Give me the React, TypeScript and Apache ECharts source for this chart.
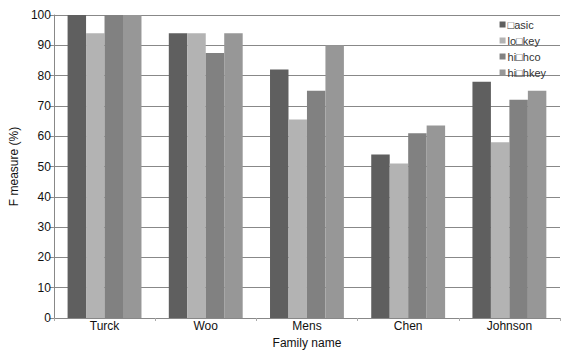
import React, { useEffect, useRef } from "react";
import * as echarts from "echarts";

const categories = ["Turck", "Woo", "Mens", "Chen", "Johnson"];
const seriesNames = ["□asic", "lo□key", "hi□hco", "hi□hkey"];
const basic = [100, 94, 82, 54, 78];
const lowkey = [94, 94, 65.5, 51, 58];
const highco = [100, 87.5, 75, 61, 72];
const highkey = [100, 94, 90, 63.5, 75];
const colors = ["#5f5f5f", "#b3b3b3", "#818181", "#979797"];
const yTicks = [0, 10, 20, 30, 40, 50, 60, 70, 80, 90, 100];

export default function App() {
  const ref = useRef<HTMLDivElement>(null);
  useEffect(() => {
    if (!ref.current) return;
    const chart = echarts.init(ref.current, null, { renderer: "svg" });
    const values = [basic, lowkey, highco, highkey];
    const font = "Liberation Sans, Arial, sans-serif";
    chart.setOption({
      animation: false,
      textStyle: { fontFamily: font },
      grid: { left: 49, right: 1, top: 15, bottom: 36, containLabel: false },
      legend: {
        orient: "vertical",
        right: 10,
        top: 14,
        itemWidth: 6,
        itemHeight: 6,
        itemGap: 5,
        icon: "rect",
        textStyle: { fontSize: 11, color: "#333", fontFamily: font, padding: [0, 0, 0, -3] },
        data: seriesNames,
      },
      xAxis: {
        type: "category",
        data: categories,
        name: "Family name",
        nameLocation: "middle",
        nameGap: 16,
        nameTextStyle: { fontSize: 12, color: "#111", fontFamily: font },
        axisLine: { lineStyle: { color: "#888", width: 1 } },
        axisTick: { show: true, length: 3, lineStyle: { color: "#aaa" } },
        axisLabel: { fontSize: 12, color: "#111", margin: 2, fontFamily: font },
      },
      yAxis: {
        type: "value",
        min: yTicks[0],
        max: yTicks[yTicks.length - 1],
        interval: 10,
        name: "F measure (%)",
        nameLocation: "middle",
        nameGap: 30,
        nameTextStyle: { fontSize: 12, color: "#111", fontFamily: font },
        axisLine: { show: true, lineStyle: { color: "#888", width: 1 } },
        axisTick: { show: true, length: 4, lineStyle: { color: "#888" } },
        axisLabel: { fontSize: 12, color: "#111", margin: 3, fontFamily: font },
        splitLine: { show: true, lineStyle: { color: "#888", width: 1 } },
      },
      series: seriesNames.map((name, i) => ({
        name,
        type: "bar",
        data: values[i],
        barGap: "0%",
        barCategoryGap: "27%",
        itemStyle: { color: colors[i] },
      })),
    });
    return () => chart.dispose();
  }, []);
  return (
    <div
      ref={ref}
      style={{ position: "absolute", left: 0, top: 0, width: 561, height: 354 }}
    />
  );
}
